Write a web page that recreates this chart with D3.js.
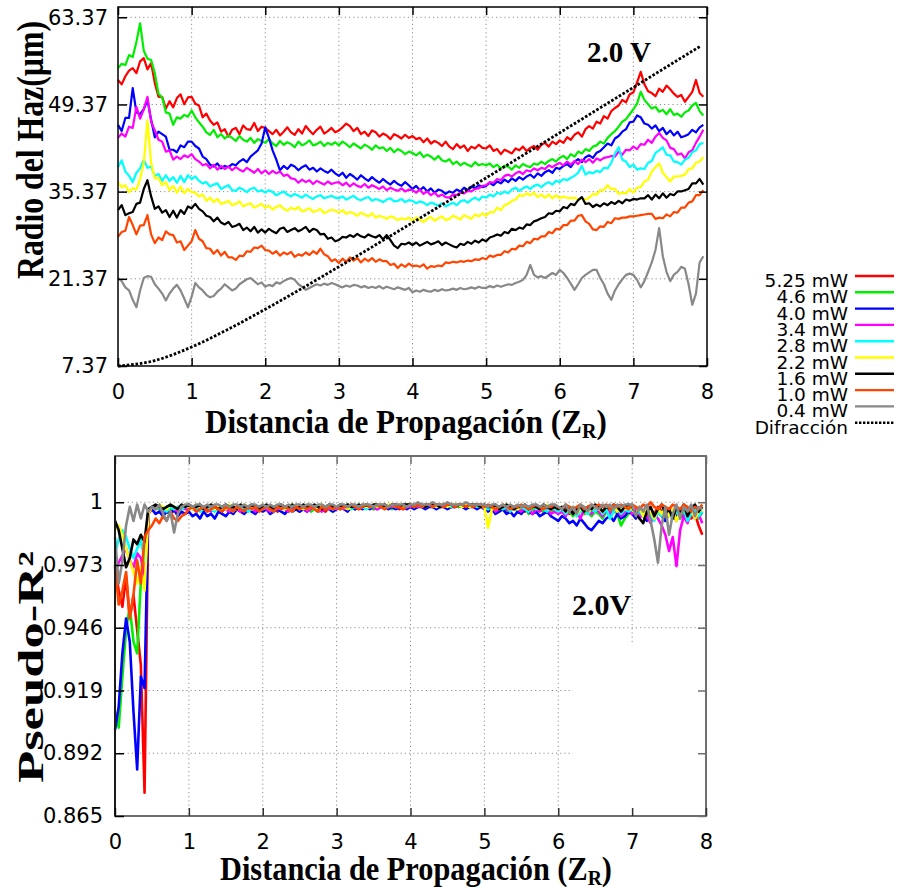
<!DOCTYPE html>
<html>
<head>
<meta charset="utf-8">
<script src="https://cdn.jsdelivr.net/npm/d3@7"></script>
<style>
  body { margin: 0; background: #fff; }
  svg { display: block; }
</style>
</head>
<body>
<svg id="chart" width="898" height="894"></svg>
<script>
// Sample spacing along the propagation axis (units of Z_R)
const STEP = 0.05;

const seriesLabels = ["5.25 mW", "4.6 mW", "4.0 mW", "3.4 mW", "2.8 mW", "2.2 mW", "1.6 mW", "1.0 mW", "0.4 mW"];
const diffractionLabel = "Difracción";
const seriesColors = ["#ff0000", "#00ee00", "#0000ff", "#ff00ff", "#00ffff", "#ffff00", "#000000", "#ff4500", "#888888"];

const xTicks = [0, 1, 2, 3, 4, 5, 6, 7, 8];
const radiusTicks = [7.37, 21.37, 35.37, 49.37, 63.37];
const radiusTickLabels = ["7.37", "21.37", "35.37", "49.37", "63.37"];
const r2Ticks = [0.865, 0.892, 0.919, 0.946, 0.973, 1];
const r2TickLabels = ["0.865", "0.892", "0.919", "0.946", "0.973", "1"];

// Beam radius (µm) for each power, sampled every STEP
const radio525 = [
  53.3,52.6,53.9,54.8,55.2,54.4,56.3,56.8,55.0,56.0,52.8,50.6,50.6,48.7,49.9,48.9,50.4,51.0,49.4,50.5,
  50.6,49.5,49.2,47.3,47.9,46.8,46.1,46.5,45.0,45.4,44.2,45.3,45.6,44.6,46.0,45.4,45.3,46.4,45.1,45.8,
  45.6,45.1,44.6,45.3,44.4,45.0,45.7,44.9,44.5,45.4,44.7,45.9,45.2,44.6,45.3,45.8,44.7,45.1,45.6,44.9,
  45.2,45.7,46.3,45.9,45.1,45.6,44.6,45.0,44.3,45.2,44.9,44.2,44.7,44.4,43.8,44.6,44.3,43.9,44.5,44.0,
  44.3,43.8,44.0,43.3,43.9,43.1,43.5,43.2,42.7,43.4,42.6,42.2,43.0,42.4,42.8,41.9,42.6,42.3,42.9,42.4,
  42.3,42.8,41.9,42.2,41.4,42.1,41.8,41.5,42.3,42.0,42.6,41.9,42.4,42.7,42.1,42.9,43.2,42.6,43.4,43.0,
  43.6,43.2,44.1,43.7,44.5,44.9,44.2,45.4,45.9,45.5,46.6,46.3,47.5,47.1,48.3,48.8,49.2,50.1,49.7,51.0,
  51.3,52.9,54.6,52.6,51.5,51.2,50.7,51.9,51.4,52.4,51.8,51.1,50.6,50.9,49.8,50.6,51.4,53.3,51.2,50.6
];
const radio46 = [
  55.2,55.9,55.7,57.3,57.0,59.4,62.4,58.0,56.7,56.5,54.4,51.1,50.5,48.1,47.9,46.1,47.3,47.1,47.7,47.4,
  48.4,47.3,46.5,45.8,44.9,44.5,45.3,44.1,44.6,43.9,44.4,44.0,43.5,44.3,43.7,43.4,44.0,43.2,43.8,43.5,
  43.2,43.8,43.1,42.7,43.5,42.9,43.3,43.0,42.5,43.4,42.8,43.1,43.6,42.8,43.0,43.4,42.7,43.2,42.9,43.3,
  42.8,43.4,43.0,42.5,43.1,42.7,42.3,42.9,42.6,42.1,42.8,42.3,42.5,41.9,42.4,41.7,42.2,41.9,41.4,41.8,
  41.6,41.2,41.7,40.9,41.3,41.0,40.5,41.1,40.4,40.2,40.6,39.8,40.2,39.6,40.0,39.7,39.4,40.1,39.6,39.8,
  39.6,39.9,39.3,39.7,39.1,39.5,39.4,38.9,39.6,39.2,39.8,39.5,39.3,39.9,39.7,40.2,39.8,40.3,40.6,40.2,
  40.8,41.1,40.6,41.4,41.0,41.8,41.5,42.2,41.9,42.6,42.8,43.4,43.1,44.0,44.6,45.1,45.8,46.6,47.0,47.8,
  48.6,49.5,51.4,50.1,49.4,48.7,49.0,48.2,48.5,47.8,48.6,47.7,47.9,47.4,48.1,48.4,49.2,49.6,48.3,47.6
];
const radio40 = [
  46.1,45.1,47.2,47.2,52.0,48.1,47.8,48.6,50.1,46.9,44.1,45.0,44.6,44.2,42.1,42.1,41.7,42.8,42.5,43.4,
  43.4,42.7,42.3,41.0,40.6,39.7,39.4,39.9,39.1,39.5,39.3,39.8,39.6,40.2,40.6,40.1,41.0,41.5,42.0,43.1,
  45.7,44.0,42.0,40.5,38.8,39.5,39.0,39.7,39.4,38.8,39.3,39.6,38.9,39.2,38.6,39.1,38.7,38.4,38.9,38.3,
  37.9,38.4,37.6,38.2,37.8,37.3,38.0,37.5,37.1,37.7,37.2,36.8,37.4,36.9,36.5,37.1,36.6,36.3,36.9,36.4,
  35.8,36.3,35.6,36.1,35.4,35.9,35.2,35.7,35.5,35.0,35.4,35.2,35.7,35.4,36.0,35.6,36.2,35.9,36.4,36.1,
  36.3,36.8,36.4,37.0,36.7,37.3,36.9,37.5,37.1,37.7,37.3,37.8,38.1,37.6,38.3,37.9,38.5,38.8,38.4,39.2,
  39.0,39.5,39.8,39.3,40.2,40.6,40.1,40.9,41.2,40.8,41.6,41.9,42.5,43.1,42.8,43.9,44.3,45.0,45.4,46.5,
  46.6,47.6,47.3,46.3,46.1,45.5,46.0,45.1,45.6,44.6,45.2,44.4,45.0,44.1,44.3,44.6,45.3,44.9,45.7,46.1
];
const radio34 = [
  44.0,44.7,44.2,45.8,45.6,49.0,47.1,48.6,50.6,46.6,45.2,43.7,43.4,41.8,42.0,40.5,41.0,40.6,41.2,40.9,
  41.4,40.6,40.2,39.6,39.8,39.1,39.7,38.9,39.5,39.0,39.4,38.8,39.3,38.9,38.6,39.2,38.8,38.4,39.0,38.3,
  38.8,38.2,38.7,38.3,38.6,37.9,38.1,37.5,37.4,36.8,37.3,36.9,37.2,36.6,37.1,36.8,36.5,37.0,36.6,36.8,
  36.9,36.4,36.8,36.2,36.7,36.3,36.1,36.6,36.0,36.4,36.1,35.8,36.2,35.6,36.0,35.7,35.5,35.9,35.4,35.7,
  35.6,35.2,35.7,35.0,35.4,34.8,35.2,34.6,34.9,34.5,34.4,34.9,34.8,35.2,35.1,35.5,35.4,35.8,35.9,36.3,
  36.4,36.9,36.8,37.4,37.2,37.9,38.1,37.8,38.3,38.6,38.2,38.8,38.6,39.1,38.8,39.2,39.0,39.6,39.3,39.7,
  40.0,39.6,40.2,39.7,40.3,39.8,40.5,40.1,40.6,40.0,40.7,40.4,40.8,40.9,41.1,41.0,41.8,41.3,42.1,42.0,
  42.6,42.2,43.0,42.9,43.7,43.2,44.2,44.8,44.0,43.6,42.4,42.2,41.3,41.5,40.7,41.7,42.0,43.2,44.2,45.3
];
const radio28 = [
  39.3,40.4,38.6,37.9,36.9,38.4,39.1,40.5,39.2,39.4,37.9,38.2,37.1,38.0,37.1,37.7,36.8,37.9,36.9,38.0,
  37.4,37.8,37.1,36.7,36.9,36.2,36.5,36.7,35.8,36.1,36.4,35.6,35.5,36.0,35.7,35.3,35.8,36.0,35.4,35.6,
  35.2,35.6,35.3,34.8,35.1,35.4,34.9,34.6,35.0,34.7,34.4,34.9,34.5,34.2,34.6,34.8,34.3,34.5,34.7,34.4,
  34.3,34.6,34.1,34.4,34.7,34.2,34.0,34.3,34.5,33.9,34.2,34.0,33.7,34.1,34.3,33.8,33.9,34.2,33.7,34.0,
  33.9,33.5,33.8,33.6,33.2,33.6,33.4,33.1,33.5,33.0,33.3,33.6,33.2,33.8,34.0,33.6,34.1,34.4,34.0,34.6,
  34.4,34.9,34.6,35.2,35.0,35.4,35.1,35.7,36.0,35.5,35.9,36.2,35.8,36.3,36.5,36.1,36.6,36.9,36.5,37.1,
  36.9,37.4,37.2,37.6,37.9,38.4,39.5,38.1,38.5,38.3,38.7,38.5,39.2,39.1,40.0,41.5,42.5,40.5,40.2,39.3,
  39.7,38.9,39.1,39.0,40.0,40.3,41.6,42.0,42.5,41.3,41.2,40.2,40.1,39.7,40.5,40.8,41.7,42.0,43.0,43.2
];
const radio22 = [
  36.9,36.1,36.4,35.3,35.9,35.7,37.4,40.0,46.8,40.0,37.5,37.6,36.4,36.9,35.6,36.3,35.2,36.2,35.1,35.8,
  35.3,35.2,34.6,34.9,33.9,34.4,33.7,34.2,33.4,33.6,33.9,33.2,33.4,33.8,33.0,33.3,33.5,32.8,33.1,33.4,
  32.8,33.1,32.5,32.9,33.2,32.6,32.3,32.8,32.5,32.9,32.2,32.4,32.7,32.1,32.3,32.6,31.9,32.2,32.5,32.3,
  32.0,32.4,31.8,32.1,31.9,31.5,32.0,31.7,31.4,31.9,31.2,31.5,31.3,31.0,31.4,31.2,30.8,31.1,30.9,31.2,
  30.6,31.2,30.9,30.5,31.0,31.3,30.7,31.1,31.4,30.8,31.0,31.5,31.2,30.9,31.6,31.3,31.0,31.7,31.4,31.9,
  31.5,32.1,32.0,32.8,32.4,33.2,33.4,33.9,34.1,34.8,34.7,35.1,34.8,35.2,34.5,34.9,34.4,34.9,34.3,34.8,
  34.3,34.6,34.4,34.3,34.4,34.1,34.3,34.1,34.4,35.0,34.9,35.6,35.6,36.4,35.8,35.8,35.0,35.2,35.1,35.8,
  35.2,36.0,36.1,37.0,37.3,38.6,39.3,39.9,38.4,37.7,37.0,37.8,37.8,37.9,38.1,39.0,39.1,40.0,40.2,40.9
];
const radio16 = [
  32.4,33.2,31.6,31.9,32.1,33.4,33.6,35.8,37.2,34.6,32.6,33.0,32.0,32.4,31.3,32.3,31.2,32.4,31.8,33.0,
  32.7,33.4,32.6,32.2,31.5,31.3,30.6,31.2,30.4,30.1,30.5,29.7,29.9,30.2,29.2,29.6,29.0,29.7,28.8,29.3,
  28.8,29.4,29.0,28.7,29.4,29.6,28.9,29.2,29.5,29.0,29.3,29.7,28.9,29.4,29.2,28.5,28.6,27.8,28.0,27.4,
  27.6,28.1,28.0,28.4,28.1,28.6,28.2,28.0,28.5,28.2,28.0,28.4,27.7,28.4,27.6,26.7,26.3,27.0,26.9,27.2,
  26.8,27.2,26.7,27.0,27.3,26.9,27.1,27.4,26.8,27.2,26.9,26.6,26.4,27.0,26.8,27.3,27.0,27.5,27.2,27.7,
  27.4,28.0,28.2,28.5,28.3,28.9,28.7,29.4,29.2,29.6,29.4,30.1,30.0,30.6,30.8,31.1,31.3,31.9,31.8,32.3,
  32.2,32.9,32.7,33.4,33.2,34.0,34.5,33.4,33.5,32.9,33.3,33.0,33.5,33.2,33.7,33.4,33.9,33.5,34.1,33.9,
  34.2,34.1,34.3,34.3,34.8,34.1,34.9,34.3,35.1,34.4,35.0,34.8,35.4,35.4,35.6,35.8,36.7,36.7,37.4,36.5
];
const radio10 = [
  28.1,28.9,29.1,31.3,30.0,28.5,29.9,30.0,31.6,28.5,27.1,28.0,27.6,29.0,28.5,28.4,27.2,27.4,26.0,26.7,
  27.4,29.2,27.8,27.4,26.3,26.2,25.4,26.0,25.1,25.7,24.8,24.8,24.4,25.1,25.0,25.8,25.7,26.4,26.3,26.7,
  26.0,25.9,25.4,25.8,25.1,25.6,25.3,25.7,24.9,25.3,25.1,25.6,25.2,25.8,25.4,26.2,25.3,25.0,24.2,24.5,
  23.9,24.6,24.1,24.8,24.3,24.7,24.0,24.6,24.2,24.7,24.1,24.5,24.2,24.2,23.6,23.8,23.1,23.7,23.3,23.8,
  23.4,23.5,23.3,23.7,23.0,23.4,23.3,23.5,23.4,24.0,23.9,24.1,24.0,24.2,24.1,24.3,24.2,24.5,24.4,24.7,
  24.5,25.1,24.9,25.2,25.2,25.8,25.6,26.2,26.1,26.7,26.6,27.3,27.1,27.8,27.7,28.2,28.2,28.9,28.7,29.4,
  29.3,30.0,30.0,30.7,30.7,31.5,31.6,30.6,30.2,29.3,29.2,29.8,29.7,30.5,30.3,31.1,31.0,31.2,31.2,31.4,
  31.4,31.5,31.6,31.7,31.8,31.8,31.0,31.2,31.1,31.7,31.4,32.1,32.0,32.8,32.8,33.6,33.8,34.8,34.8,35.6
];
const radio04 = [
  21.5,21.0,20.0,19.5,18.0,16.8,19.5,21.5,21.8,21.7,20.5,19.8,19.0,17.9,19.0,19.8,20.4,19.5,18.2,16.8,
  18.5,20.7,20.0,19.5,18.8,18.4,18.6,19.3,19.8,20.5,20.0,19.5,19.8,20.5,20.9,21.3,21.5,21.0,20.5,20.8,
  20.1,20.4,20.2,20.8,20.6,21.0,21.3,21.5,21.2,20.5,20.1,19.6,19.9,20.2,20.5,20.3,20.6,20.4,20.7,20.5,
  20.2,20.0,20.3,20.1,20.4,20.3,20.0,20.2,19.9,20.1,19.9,20.2,19.8,20.1,19.9,19.7,20.0,19.8,19.6,19.9,
  19.2,19.5,19.3,19.6,19.4,19.3,19.6,19.4,19.7,19.5,19.6,19.8,19.6,19.9,19.7,19.8,20.0,19.8,20.1,19.9,
  19.9,20.2,20.0,20.3,20.1,20.3,20.5,20.4,20.7,20.9,21.2,22.0,23.6,22.0,21.6,21.8,21.5,21.9,22.3,22.0,
  22.8,22.3,21.5,20.6,19.6,20.5,21.5,22.0,22.4,22.8,22.8,21.5,20.5,19.0,18.0,19.5,20.5,21.3,22.0,22.2,
  22.0,21.2,20.0,21.0,22.5,24.0,26.0,29.5,25.0,22.5,21.0,22.0,22.5,23.3,23.0,20.5,17.2,19.0,24.0,25.0
];

// Diffraction-limited radius
const diffractionZ = [0, 0.5, 1, 1.5, 2, 2.5, 3, 3.5, 4, 4.5, 5, 5.5, 6, 6.5, 7, 7.5, 7.92];
const diffractionRadio = [7.37, 8.24, 10.42, 13.29, 16.48, 19.84, 23.31, 26.83, 30.39, 33.97, 37.58, 41.20, 44.83, 48.47, 52.11, 55.76, 58.8];

// Pseudo-R² of the Gaussian fit for each power, sampled every STEP
const r2_525 = [
  .972,.962,.955,.968,.950,.960,.945,.930,.875,.995,.997,.998,.997,.996,.998,.997,.996,.998,.997,.998,
  .998,.997,.998,.997,.996,.998,.997,.998,.997,.996,.998,.997,.998,.997,.998,.996,.997,.998,.997,.998,
  .997,.998,.997,.998,.996,.997,.998,.997,.998,.997,.996,.998,.997,.998,.997,.998,.997,.996,.998,.997,
  .998,.997,.998,.999,.998,.997,.998,.999,.998,.998,.997,.998,.999,.998,.998,.999,.998,.997,.998,.999,
  .999,.998,.999,.998,.999,.999,.998,.999,.998,.999,.999,.998,.999,.998,.999,.999,.998,.999,.998,.999,
  .998,.997,.998,.997,.998,.997,.996,.998,.997,.998,.997,.996,.998,.997,.998,.997,.996,.998,.997,.996,
  .997,.996,.998,.995,.997,.996,.998,.995,.997,.996,.997,.998,.996,.997,.995,.997,.998,.996,.997,.998,
  .997,.995,.998,.996,.994,.997,.995,.998,.996,.993,.997,.995,.992,.996,.994,.997,.993,.995,.990,.986
];
const r2_46 = [
  .910,.903,.925,.945,.955,.940,.935,.966,.972,.996,.997,.998,.997,.996,.998,.997,.998,.996,.997,.998,
  .997,.998,.996,.997,.998,.997,.996,.998,.997,.998,.997,.996,.998,.997,.998,.997,.996,.998,.997,.997,
  .998,.997,.996,.998,.997,.998,.997,.996,.998,.997,.998,.997,.998,.996,.997,.998,.997,.998,.997,.996,
  .998,.997,.998,.999,.998,.997,.998,.998,.999,.998,.997,.998,.999,.998,.998,.997,.998,.999,.998,.998,
  .999,.998,.998,.999,.998,.999,.998,.999,.999,.998,.999,.998,.999,.998,.999,.998,.999,.999,.998,.999,
  .998,.997,.998,.996,.997,.998,.996,.997,.998,.996,.997,.998,.995,.997,.996,.998,.996,.997,.995,.997,
  .996,.997,.995,.996,.994,.996,.997,.995,.996,.994,.996,.995,.993,.996,.994,.997,.995,.990,.993,.995,
  .996,.994,.997,.995,.993,.996,.994,.997,.995,.992,.996,.994,.997,.993,.996,.994,.997,.995,.993,.996
];
const r2_40 = [
  .902,.912,.935,.950,.940,.910,.885,.925,.920,.996,.997,.995,.996,.994,.996,.995,.997,.994,.996,.995,
  .996,.994,.995,.993,.996,.994,.995,.993,.996,.995,.994,.996,.995,.997,.996,.995,.997,.996,.995,.997,
  .996,.997,.995,.996,.997,.996,.995,.997,.996,.997,.996,.997,.996,.998,.997,.996,.997,.998,.997,.996,
  .997,.998,.997,.996,.998,.997,.998,.997,.998,.997,.998,.997,.998,.998,.997,.998,.997,.998,.998,.997,
  .998,.997,.998,.998,.997,.998,.998,.997,.998,.998,.997,.998,.998,.999,.998,.997,.998,.998,.997,.998,
  .997,.996,.997,.995,.996,.997,.995,.996,.994,.996,.995,.997,.996,.995,.996,.994,.995,.996,.994,.993,
  .992,.994,.993,.991,.992,.990,.993,.991,.989,.988,.990,.992,.991,.993,.994,.992,.995,.993,.994,.996,
  .995,.993,.996,.994,.992,.995,.993,.996,.994,.992,.995,.997,.994,.996,.993,.995,.997,.994,.996,.995
];
const r2_34 = [
  .970,.974,.977,.980,.975,.972,.978,.976,.968,.995,.998,.997,.998,.996,.997,.998,.997,.996,.998,.997,
  .997,.998,.996,.997,.998,.997,.996,.998,.997,.998,.997,.996,.998,.997,.996,.998,.997,.998,.996,.997,
  .998,.997,.996,.998,.997,.998,.997,.996,.997,.998,.997,.998,.996,.997,.998,.997,.996,.998,.997,.998,
  .997,.998,.997,.998,.999,.998,.997,.998,.999,.998,.998,.997,.998,.999,.998,.998,.999,.998,.997,.998,
  .998,.999,.998,.999,.998,.999,.999,.998,.999,.998,.999,.999,.998,.999,.998,.999,.999,.998,.999,.998,
  .998,.997,.998,.996,.997,.998,.997,.996,.998,.997,.996,.998,.997,.995,.997,.996,.998,.997,.995,.996,
  .995,.996,.994,.997,.995,.996,.993,.997,.996,.995,.997,.996,.994,.997,.995,.996,.997,.994,.996,.997,
  .995,.997,.993,.996,.994,.991,.995,.993,.990,.986,.979,.985,.9725,.988,.994,.991,.996,.993,.995,.991
];
const r2_28 = [
  .978,.984,.988,.985,.980,.976,.980,.984,.975,.996,.998,.997,.998,.997,.996,.998,.997,.998,.997,.998,
  .998,.997,.998,.996,.997,.998,.997,.996,.998,.997,.998,.997,.996,.998,.997,.998,.996,.997,.998,.997,
  .997,.998,.997,.996,.998,.997,.998,.997,.996,.998,.997,.998,.997,.998,.997,.996,.998,.997,.998,.997,
  .998,.997,.998,.998,.997,.998,.999,.998,.997,.998,.998,.999,.998,.997,.998,.999,.998,.998,.999,.998,
  .999,.998,.999,.998,.999,.999,.998,.999,.998,.999,.999,.998,.999,.999,.998,.999,.998,.999,.998,.999,
  .998,.997,.998,.997,.998,.997,.998,.996,.998,.997,.998,.997,.996,.998,.997,.998,.997,.996,.998,.997,
  .996,.997,.995,.997,.998,.994,.996,.997,.995,.997,.996,.998,.995,.997,.993,.996,.998,.995,.997,.996,
  .997,.995,.996,.994,.997,.995,.992,.996,.994,.997,.995,.993,.996,.994,.997,.992,.995,.997,.994,.996
];
const r2_22 = [
  .988,.990,.986,.980,.975,.970,.965,.972,.962,.995,.998,.997,.999,.998,.997,.999,.998,.997,.998,.999,
  .998,.997,.999,.998,.997,.998,.999,.997,.998,.998,.997,.999,.998,.997,.998,.999,.998,.997,.998,.998,
  .999,.998,.997,.998,.999,.998,.997,.998,.999,.998,.998,.997,.999,.998,.997,.998,.999,.998,.998,.997,
  .998,.999,.998,.997,.998,.999,.998,.999,.998,.998,.999,.998,.999,.998,.999,.999,.998,.999,.998,.999,
  .999,.998,.999,.999,.998,.999,.999,.998,.999,.999,.998,.999,.999,.999,.998,.999,.998,.999,.999,.998,
  .998,.989,.997,.998,.997,.998,.999,.997,.998,.997,.998,.999,.997,.998,.998,.997,.998,.999,.997,.998,
  .997,.998,.996,.997,.998,.995,.997,.998,.996,.997,.998,.997,.996,.998,.997,.998,.996,.998,.997,.998,
  .997,.995,.998,.994,.997,.996,.993,.997,.995,.998,.994,.997,.992,.996,.998,.995,.997,.993,.996,.997
];
const r2_16 = [
  .992,.988,.980,.972,.976,.984,.982,.986,.983,.997,.998,.999,.998,.997,.998,.999,.998,.997,.999,.998,
  .999,.998,.998,.999,.997,.998,.999,.998,.997,.998,.999,.998,.998,.997,.999,.998,.998,.999,.998,.997,
  .998,.999,.998,.997,.998,.999,.998,.998,.999,.997,.998,.999,.998,.998,.999,.998,.997,.998,.999,.998,
  .998,.999,.998,.999,.998,.998,.999,.998,.999,.998,.999,.999,.998,.999,.998,.999,.999,.998,.999,.999,
  .999,.998,.999,.999,.998,.999,.999,.999,.998,.999,.999,.999,.998,.999,.999,.998,.999,.999,.999,.998,
  .999,.998,.998,.999,.997,.998,.999,.998,.997,.998,.998,.999,.997,.998,.998,.997,.999,.998,.997,.998,
  .997,.998,.996,.998,.995,.997,.998,.996,.998,.997,.999,.998,.996,.998,.997,.999,.998,.996,.998,.999,
  .998,.995,.993,.991,.996,.998,.994,.997,.999,.995,.997,.993,.998,.996,.999,.994,.997,.999,.996,.998
];
const r2_10 = [
  .973,.956,.962,.970,.950,.960,.975,.965,.985,.988,.990,.993,.991,.994,.992,.996,.993,.992,.994,.995,
  .997,.998,.996,.997,.998,.996,.997,.998,.997,.996,.998,.997,.996,.998,.997,.996,.998,.997,.998,.996,
  .997,.998,.997,.996,.998,.997,.998,.997,.996,.998,.997,.998,.997,.998,.997,.996,.998,.997,.998,.997,
  .998,.997,.998,.998,.999,.998,.997,.998,.999,.998,.998,.999,.998,.997,.998,.999,.998,.998,.997,.998,
  .999,.998,.999,.998,.999,.999,.998,.999,.999,.998,.999,.999,.998,.999,.999,.998,.999,.998,.999,.999,
  .998,.999,.998,.997,.998,.999,.998,.997,.998,.998,.999,.998,.997,.998,.999,.998,.997,.998,.998,.999,
  .998,.997,.999,.998,.997,.998,.999,.997,.998,.999,.998,.999,.998,.999,.997,.999,.998,.999,.998,.997,
  .999,.998,.997,.999,.998,1.0,.998,.997,.999,.998,.997,.999,.998,.997,.999,.998,.996,.998,.997,.999
];
const r2_04 = [
  .985,.965,.975,.990,.998,.992,.999,.993,.999,.996,.998,.997,.999,.995,.992,.996,.987,.995,.998,.999,
  .999,.998,.999,.999,.998,.999,.998,.999,.999,.998,.999,.998,.999,.999,.998,.999,.998,.999,.999,.998,
  .999,.998,.999,.998,.999,.999,.998,.999,.998,.999,.999,.998,.999,.999,.998,.999,.999,.998,.999,.999,
  .998,.999,.999,.998,.999,.999,.998,.999,.999,.999,.998,.999,.999,.999,.998,.999,.999,.999,.999,.998,
  .999,.999,1.0,.999,.999,.999,1.0,.999,.999,.999,1.0,.999,.999,.999,.999,1.0,.999,.999,.999,.999,
  .999,.998,.999,.999,.998,.999,.998,.999,.998,.999,.998,.999,.998,.999,.999,.998,.999,.998,.999,.999,
  .998,.997,.999,.996,.998,.995,.999,.998,.996,.999,.998,.997,.999,.998,.999,.997,.999,.998,.999,.999,
  .999,.994,.998,.996,.999,.992,.984,.974,.990,.998,.986,.995,.999,.993,.998,.996,.999,.994,.998,.997
];

const radiusSeries = [radio525, radio46, radio40, radio34, radio28, radio22, radio16, radio10, radio04];
const r2Series = [r2_525, r2_46, r2_40, r2_34, r2_28, r2_22, r2_16, r2_10, r2_04];

const SERIF = "'Liberation Serif', 'Times New Roman', serif";
const SANS = "'DejaVu Sans', sans-serif";
const svg = d3.select("#chart");

function drawPanel(p) {
  const x = d3.scaleLinear().domain([0, 8]).range([p.left, p.right]);
  const y = d3.scaleLinear().domain(p.yDomain).range([p.bottom, p.top]);
  const g = svg.append("g");

  // dotted grid
  const grid = g.append("g")
    .attr("stroke", "#8f8f8f").attr("stroke-width", 1).attr("stroke-dasharray", "1.2,3");
  grid.selectAll("line.gv").data(xTicks.filter(t => t > 0 && t < 8)).join("line")
    .attr("class", "gv")
    .attr("x1", d => x(d)).attr("x2", d => x(d))
    .attr("y1", p.top).attr("y2", p.bottom);
  grid.selectAll("line.gh").data(p.yTicks.slice(1)).join("line")
    .attr("class", "gh")
    .attr("x1", p.left).attr("x2", p.right)
    .attr("y1", d => y(d)).attr("y2", d => y(d));

  // empty key box (white) in the lower-right corner
  if (p.keyBox) {
    g.append("rect")
      .attr("x", x(p.keyBox.z0)).attr("y", y(p.keyBox.v1))
      .attr("width", p.right - x(p.keyBox.z0) - 1)
      .attr("height", y(p.yDomain[0]) - y(p.keyBox.v1) - 1)
      .attr("fill", "#fff");
  }

  // data lines
  const line = d3.line()
    .x((d, i) => x(i * STEP))
    .y(d => y(d));
  g.append("g").selectAll("path").data(p.series).join("path")
    .attr("d", d => line(d))
    .attr("fill", "none")
    .attr("stroke", (d, i) => seriesColors[i])
    .attr("stroke-width", p.lineWidth)
    .attr("stroke-linejoin", "round");

  if (p.diffraction) {
    const dl = d3.line().curve(d3.curveMonotoneX)
      .x((d, i) => x(diffractionZ[i])).y(d => y(d));
    g.append("path").attr("d", dl(diffractionRadio))
      .attr("fill", "none").attr("stroke", "#000")
      .attr("stroke-width", 2.8).attr("stroke-dasharray", "2.6,1.8");
  }

  // frame and inward ticks
  g.append("rect")
    .attr("x", p.left).attr("y", p.top)
    .attr("width", p.right - p.left).attr("height", p.bottom - p.top)
    .attr("fill", "none").attr("stroke", p.frameColor).attr("stroke-width", p.frameWidth);

  const style = (sel, color) => {
    sel.select(".domain").remove();
    sel.selectAll("line").attr("stroke", color).attr("stroke-width", 1.5);
    sel.selectAll("text").attr("font-family", SANS).attr("font-size", 21).attr("fill", "#000");
  };

  g.append("g").attr("transform", `translate(0,${p.bottom})`)
    .call(d3.axisBottom(x).tickValues(xTicks).tickFormat(d3.format("d")).tickSize(-8).tickPadding(18))
    .call(s => style(s, p.bottomTickColor));
  g.append("g").attr("transform", `translate(${p.left},0)`)
    .call(d3.axisLeft(y).tickValues(p.yTicks).tickFormat((d, i) => p.yLabels[i]).tickSize(-9).tickPadding(p.yPad))
    .call(s => style(s, "#000"));
  g.append("g").attr("transform", `translate(0,${p.top})`)
    .call(d3.axisTop(x).tickValues(xTicks).tickFormat("").tickSize(-8))
    .call(s => style(s, p.frameColor));
  g.append("g").attr("transform", `translate(${p.right},0)`)
    .call(d3.axisRight(y).tickValues(p.yTicks).tickFormat("").tickSize(-8))
    .call(s => style(s, p.frameColor));

  if (p.leftLine) {
    g.append("line").attr("x1", p.left).attr("x2", p.left)
      .attr("y1", p.top).attr("y2", p.bottom)
      .attr("stroke", "#000").attr("stroke-width", 1.5);
  }
  return g;
}

// Bold serif title squeezed or stretched to a given length
function title(parts, opt) {
  const g = svg.append("g");
  const t = g.append("text")
    .attr("font-family", SERIF).attr("font-weight", "bold")
    .attr("font-size", opt.size).attr("fill", "#000")
    .attr("text-anchor", opt.anchor || "start");
  parts.forEach(pt => {
    const ts = t.append("tspan").text(pt.text);
    if (pt.size) ts.attr("font-size", pt.size);
    if (pt.dy) ts.attr("dy", pt.dy);
  });
  const w = t.node().getBBox().width;
  const s = opt.length / w;
  const rot = opt.rotate ? ` rotate(${opt.rotate})` : "";
  g.attr("transform", `translate(${opt.x},${opt.y})${rot} scale(${s},1)`);
  return g;
}

// upper panel: beam radius
drawPanel({
  left: 118, right: 707, top: 7, bottom: 366,
  yDomain: [7.37, 65.02], yTicks: radiusTicks, yLabels: radiusTickLabels, yPad: 10,
  series: radiusSeries, lineWidth: 2.2, diffraction: true,
  frameColor: "#000", frameWidth: 1.5, bottomTickColor: "#000"
});

// lower panel: fit quality
drawPanel({
  left: 115, right: 706, top: 456, bottom: 816,
  yDomain: [0.865, 1.0199], yTicks: r2Ticks, yLabels: r2TickLabels, yPad: 12,
  series: r2Series, lineWidth: 2.6, diffraction: false,
  keyBox: { z0: 6.2, v1: 0.9385 },
  frameColor: "#6e6e6e", frameWidth: 2, bottomTickColor: "#333", leftLine: true
});

// axis titles
const xTitle = [
  { text: "Distancia de Propagación (Z" },
  { text: "R", size: 22, dy: 5 },
  { text: ")", dy: -5 }
];
title(xTitle, { x: 205, y: 433, size: 34, length: 402 });
title(xTitle, { x: 220, y: 880, size: 34, length: 392 });
title([{ text: "Radio del Haz(µm)" }], { x: 43, y: 150, size: 38, length: 258, rotate: -90, anchor: "middle" });
title([{ text: "Pseudo-R²" }], { x: 43, y: 667, size: 35, length: 232, rotate: -90, anchor: "middle" });

// voltage annotations
svg.append("text").attr("x", 587).attr("y", 62)
  .attr("font-family", SERIF).attr("font-weight", "bold").attr("font-size", 29)
  .text("2.0 V");
svg.append("text").attr("x", 572).attr("y", 615)
  .attr("font-family", SERIF).attr("font-weight", "bold").attr("font-size", 30)
  .text("2.0V");

// legend
const legend = svg.append("g").attr("font-family", SANS).attr("font-size", 18.5);
const rowH = 16.3;
const legendRows = seriesLabels.map((l, i) => ({ label: l, color: seriesColors[i], dotted: false }))
  .concat([{ label: diffractionLabel, color: "#000", dotted: true }]);
legendRows.forEach((r, i) => {
  legend.append("text").attr("x", 848).attr("y", 287 + i * rowH)
    .attr("text-anchor", "end").attr("fill", "#000").text(r.label);
  legend.append("line")
    .attr("x1", 855).attr("x2", 894)
    .attr("y1", 276 + i * rowH).attr("y2", 276 + i * rowH)
    .attr("stroke", r.color)
    .attr("stroke-width", r.dotted ? 2.6 : 2.4)
    .attr("stroke-dasharray", r.dotted ? "2.4,1.6" : null);
});
</script>
</body>
</html>
